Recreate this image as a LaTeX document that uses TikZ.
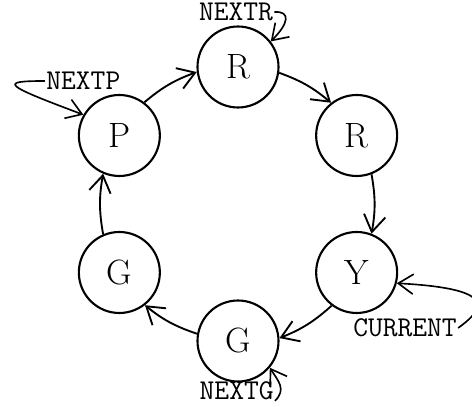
\documentclass[tikz,border=0pt]{standalone}
\usepackage{fontspec}
\usetikzlibrary{arrows.meta}

\begin{document}
\begin{tikzpicture}[
  state/.style={circle, draw, line width=1.8pt, minimum size=2.43cm, inner sep=0pt, font=\fontsize{30}{34}\selectfont},
  ptr/.style={font=\fontsize{24.5}{28}\selectfont\ttfamily, inner sep=1pt},
  link/.style={-{Straight Barb[length=5mm, width=6.5mm]}, line width=1.6pt, bend left=10},
  ptrline/.style={-{Straight Barb[length=4.5mm, width=6mm]}, line width=1.4pt}
]
  \def\rr{4.11}

  % Fixed bounding box
  \path[use as bounding box] (0,0) rectangle (14.16,12.21);
  \coordinate (c) at (7.14,6.09);

  % The six states round the ring
  \foreach \ang/\name/\txt in {90/r1/R, 30/r2/R, -30/y/Y, -90/g1/G, -150/g2/G, 150/p/P} {
    \node[state] (\name) at ([shift={(\ang:\rr)}]c) {\txt};
  }

  % Links, clockwise
  \draw[link] (p.53) to (r1.187);
  \draw[link] (r1.-8) to (r2.128);
  \draw[link] (r2.-69) to (y.69);
  \draw[link] (y.-127) to (g1.4);
  \draw[link] (g1.170) to (g2.-52);
  \draw[link] (g2.113) to (p.-113);

  % Pointer names
  \node[ptr] (nextr) at (7.08,11.85) {NEXTR};
  \node[ptr] (nextp) at (2.5,9.78) {NEXTP};
  \node[ptr] (current) at (12.15,2.37) {CURRENT};
  \node[ptr] (nextg) at (7.1,0.5) {NEXTG};

  % Pointers into the ring
  \draw[ptrline] (nextr.east) .. controls +(0.5,0.03) and +(0.54,0.54) .. (r1.38);
  \draw[ptrline] (nextp.west) .. controls +(-1.4,0) and +(-2.4,0.9) .. (p.150);
  \draw[ptrline] (current.east) .. controls +(0.96,0.69) and +(2.79,-0.15) .. (y.-15);
  \draw[ptrline] (nextg.south east) .. controls +(0.35,0.35) and +(0.25,-0.4) .. (g1.-40);
\end{tikzpicture}
\end{document}
